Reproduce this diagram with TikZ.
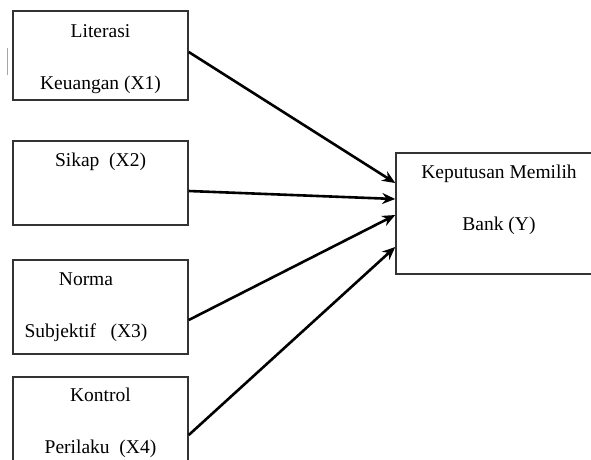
\documentclass[tikz,border=0pt]{standalone}
\usepackage{fontspec}
\setmainfont{Liberation Serif}
\usetikzlibrary{arrows,arrows.meta}

\begin{document}
\begin{tikzpicture}[
        x=1pt, y=-1pt,
        >={Stealth[length=13pt,width=11pt]}, % arrow head style
        ]

        \tikzstyle{every node}=[font=\fontsize{19.5}{52}\selectfont]
        \tikzstyle{box}=[
            draw = black!80,
            line width=1.5pt,
            inner sep=0pt
        ]
        \tikzstyle{every edge}=[
            draw = black,
            line width=2.6pt,
            ->
        ]
        % base = baseline of the last line
        \tikzset{l/.style={align=center, anchor=base, inner sep=0pt}}

        \useasboundingbox (0,0) rectangle (591,459);
        \clip (0,0) rectangle (591,459);

        \node[box, minimum width=175pt, minimum height=89pt] (x1) at (100.5,55.5) {};
        \node[box, minimum width=175pt, minimum height=84pt] (x2) at (100.5,183) {};
        \node[box, minimum width=175pt, minimum height=94pt] (x3) at (100.5,307) {};
        \node[box, minimum width=175pt, minimum height=94pt] (x4) at (100.5,424) {};
        \node[box, minimum width=206pt, minimum height=121pt] (y) at (499,213.5) {};

        \node[l] (t1) at (100.5,89) {Literasi\\Keuangan (X1)};
        \node[l] (t2) at (100.5,166) {Sikap\ \ (X2)};
        \node[l] (t3) at (86,337) {Norma\\Subjektif\ \ \ (X3)};
        \node[l] (t4) at (100.5,453) {Kontrol\\Perilaku\ \ (X4)};
        \node[l] (ty) at (499,230) {Keputusan Memilih\\Bank (Y)};

        \draw[black!35, line width=1pt] (7,48) -- (7,75); % stray mark

        \path
        ([yshift=3.5pt]x1.east) edge ([yshift=30.5pt]y.west)
        ([yshift=-8pt]x2.east) edge ([yshift=14.5pt]y.west)
        ([yshift=-13pt]x3.east) edge ([yshift=-1.5pt]y.west)
        ([yshift=-11pt]x4.east) edge ([yshift=-33.5pt]y.west)
        ;
    \end{tikzpicture}
\end{document}
